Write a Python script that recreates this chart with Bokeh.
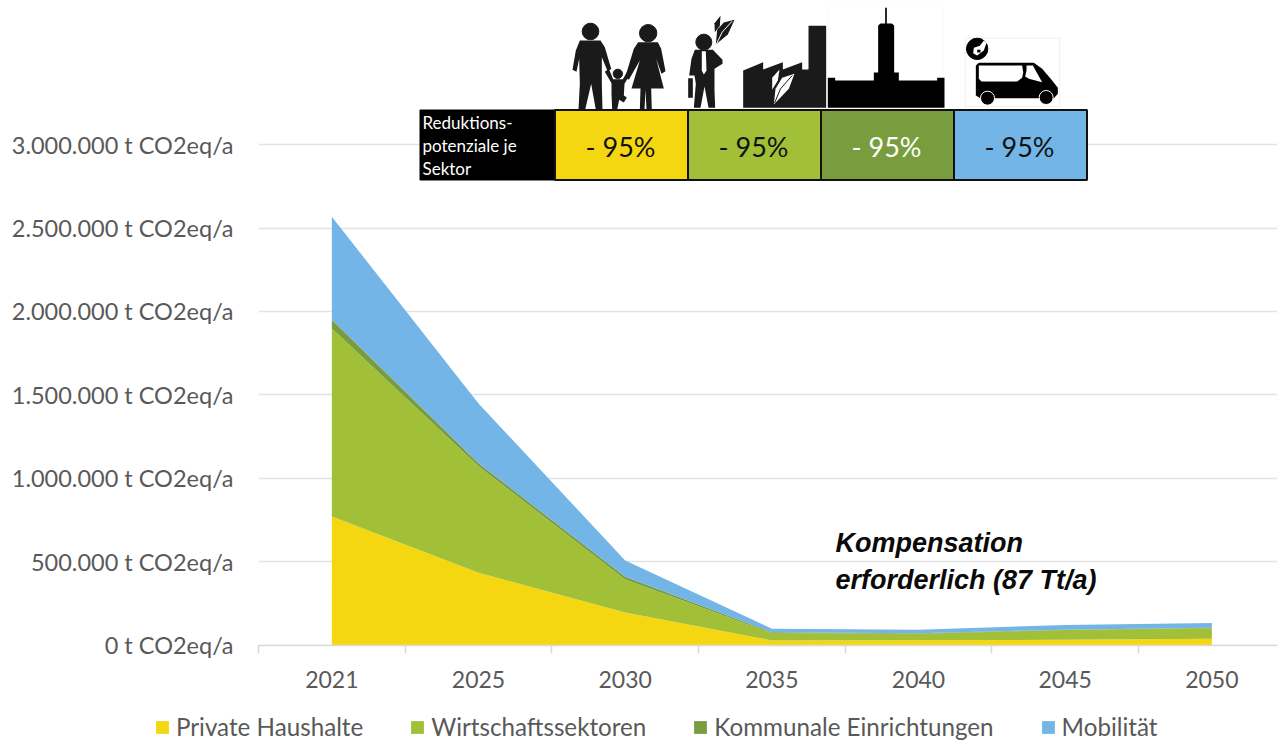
from bokeh.embed import file_html
from bokeh.layouts import column
from bokeh.resources import INLINE
from bokeh.plotting import figure
from bokeh.models import ColumnDataSource, Range1d, FixedTicker, Legend, LegendItem
from bokeh.core.properties import value

# Emission pathway per sector, t CO2eq/a
years = ["2021", "2025", "2030", "2035", "2040", "2045", "2050"]
haushalte = [770000, 433000, 195000, 27000, 28000, 31000, 38000]
wirtschaft = [1128000, 639000, 198000, 45000, 40000, 59000, 64000]
kommunal = [52000, 18000, 16000, 4000, 3000, 2000, 2000]
mobilitaet = [618000, 358000, 98000, 22000, 21000, 28000, 28000]

sectors = ["Private Haushalte", "Wirtschaftssektoren", "Kommunale Einrichtungen", "Mobilität"]
colors = ["#F4D711", "#A2C037", "#799D3E", "#72B5E6"]

y_ticks = [0, 500000, 1000000, 1500000, 2000000, 2500000, 3000000]
y_labels = ["0 t CO2eq/a", "500.000 t CO2eq/a", "1.000.000 t CO2eq/a", "1.500.000 t CO2eq/a",
            "2.000.000 t CO2eq/a", "2.500.000 t CO2eq/a", "3.000.000 t CO2eq/a"]

reductions = ["- 95%", "- 95%", "- 95%", "- 95%"]
reduction_text_colors = ["#111111", "#111111", "#FFFFFF", "#111111"]
table_head = ["Reduktions-", "potenziale je", "Sektor"]
note_lines = ["Kompensation", "erforderlich (87 Tt/a)"]

GREY = "#595959"
WIDTH, CHART_HEIGHT, LEGEND_HEIGHT = 1277, 697, 45
LEFT, BOTTOM = 258, 52
PX_PER_CATEGORY = 146.67
PX_PER_TONNE = 166.77e-6

centers = [i + 0.5 for i in range(len(years))]
source = ColumnDataSource(dict(x=centers, h=haushalte, w=wirtschaft, k=kommunal, m=mobilitaet))

p = figure(
    width=WIDTH, height=CHART_HEIGHT, output_backend="svg", toolbar_location=None,
    x_range=Range1d(0, (WIDTH - LEFT) / PX_PER_CATEGORY),
    y_range=Range1d(-0.5 / PX_PER_TONNE, 644.5 / PX_PER_TONNE),
    min_border_left=LEFT, min_border_right=0, min_border_top=0, min_border_bottom=BOTTOM,
    outline_line_color=None, background_fill_color="white", frame_align=False,
)
# Canvas-pixel ranges for the header table and its pictograms
p.extra_x_ranges["px"] = Range1d(LEFT, WIDTH)
p.extra_y_ranges["px"] = Range1d(CHART_HEIGHT - BOTTOM, 0)

p.xgrid.visible = False
p.ygrid.ticker = FixedTicker(ticks=y_ticks)
p.ygrid.grid_line_color = "#E3E3E3"
p.ygrid.grid_line_width = 1.6

yaxis = p.yaxis[0]
yaxis.ticker = FixedTicker(ticks=y_ticks)
yaxis.major_label_overrides = dict(zip(y_ticks, y_labels))
yaxis.axis_line_color = None
yaxis.major_tick_line_color = None
yaxis.minor_tick_line_color = None
yaxis.major_label_text_font = "Lato"
yaxis.major_label_text_font_size = "23.5px"
yaxis.major_label_text_color = GREY
yaxis.major_label_standoff = 19

xaxis = p.xaxis[0]
xaxis.ticker = FixedTicker(ticks=centers, minor_ticks=list(range(len(years) + 1)))
xaxis.major_label_overrides = dict(zip(centers, years))
xaxis.axis_line_color = "#D9D9D9"
xaxis.axis_line_width = 1.6
xaxis.major_tick_line_color = None
xaxis.minor_tick_line_color = "#D9D9D9"
xaxis.minor_tick_line_width = 1.6
xaxis.minor_tick_out = 8
xaxis.minor_tick_in = 0
xaxis.major_label_text_font = "Lato"
xaxis.major_label_text_font_size = "23px"
xaxis.major_label_text_color = GREY
xaxis.major_label_standoff = 17

p.varea_stack(["h", "w", "k", "m"], x="x", color=colors, source=source)

# The legend sits in its own strip under the chart; the stack it refers to lies outside the strip's x range
strip = figure(
    width=WIDTH, height=LEGEND_HEIGHT, output_backend="svg", toolbar_location=None,
    x_range=Range1d(100, 100 + WIDTH), y_range=Range1d(0, LEGEND_HEIGHT),
    x_axis_location=None, y_axis_location=None,
    min_border_left=0, min_border_right=0, min_border_top=0, min_border_bottom=0,
    outline_line_color=None, frame_align=False,
)
strip.grid.visible = False
swatches = strip.varea_stack(["h", "w", "k", "m"], x="x", color=colors, source=source)
legend = Legend(
    items=[LegendItem(label=s, renderers=[r]) for s, r in zip(sectors, swatches)],
    orientation="horizontal", location=(154, 1),
    glyph_width=16, glyph_height=16, label_standoff=6, spacing=46,
    padding=0, margin=0, border_line_color=None, background_fill_alpha=0,
    label_text_font="Lato", label_text_font_size="24.2px", label_text_color=GREY,
)
strip.add_layout(legend, "center")


def px_poly(points, x0, color, y0=0):
    """Fill a polygon given in 1/3-pixel coordinates relative to (x0, y0)."""
    xs = [x0 + a / 3 for a, _ in points]
    ys = [y0 + b / 3 for _, b in points]
    p.patch(xs, ys, color=color, line_width=0, x_range_name="px", y_range_name="px")


def px_vein(points, x0, color):
    p.line([x0 + a / 3 for a, _ in points], [b / 3 for _, b in points], line_color=color,
           line_width=1, x_range_name="px", y_range_name="px")


def px_dot(x, y, r, x0, color, outline=None):
    p.scatter([x0 + x / 3], [y / 3], size=2 * r / 3, color=color, line_color=outline or color,
              line_width=1, x_range_name="px", y_range_name="px")


def px_label(x, y, lines, **kw):
    p.text(x, y, text=lines, x_range_name="px", y_range_name="px", text_baseline="middle", **kw)


# Header table: label cell plus one cell per sector
edges = [419.5, 554.5, 687.5, 820.5, 953.5, 1086.5]
p.quad(left=edges[:1], right=edges[1:2], top=[109.5], bottom=[179.5], color="black",
       x_range_name="px", y_range_name="px")
p.quad(left=edges[1:-1], right=edges[2:], top=[109.5] * 4, bottom=[179.5] * 4, fill_color=colors,
       line_color="#111111", line_width=2, x_range_name="px", y_range_name="px")
px_label([422] * 3, [122, 145, 168], table_head, text_font=value("Lato"), text_font_size="17px",
         text_color="white")
px_label([(a + b) / 2 - 1 for a, b in zip(edges[1:-1], edges[2:])], [146] * 4, reductions,
         text_font=value("Lato"), text_font_size="27px", text_align="center",
         text_color=reduction_text_colors)

# Family
INK = "#1A1A1A"
px_dot(90, 93, 25, 560, INK)
px_poly([(58, 120), (120, 120), (133, 140), (152, 205), (142, 214), (124, 170), (124, 250), (126, 328),
         (106, 328), (92, 250), (74, 328), (54, 328), (58, 250), (56, 175), (48, 214), (36, 208), (46, 150)], 560, INK)
px_dot(263, 98, 26, 560, INK)
px_poly([(233, 125), (292, 125), (302, 145), (315, 212), (303, 220), (287, 175), (310, 264), (272, 264),
         (274, 328), (258, 328), (255, 268), (252, 328), (238, 328), (240, 264), (213, 264), (238, 180),
         (205, 238), (194, 230), (220, 145)], 560, INK)
px_dot(172, 220, 14, 560, INK)
px_poly([(158, 236), (187, 236), (205, 205), (214, 212), (192, 250), (190, 285), (199, 291), (190, 306),
         (176, 298), (170, 328), (155, 328), (153, 280), (153, 248), (133, 214), (145, 205)], 560, INK)

# Businessman with leaves
px_dot(70, 125, 24, 680, INK)
px_poly([(43, 148), (97, 148), (126, 178), (126, 190), (102, 205), (102, 270), (104, 322), (84, 322),
         (72, 258), (60, 322), (40, 322), (46, 250), (42, 225), (26, 225), (33, 175)], 680, INK)
px_poly([(64, 152), (76, 152), (78, 210), (70, 222), (64, 210)], 680, "white")
px_poly([(23, 233), (37, 233), (37, 292), (23, 292)], 680, INK)
px_poly([(162, 58), (130, 66), (110, 88), (106, 132), (142, 102)], 680, INK)
px_vein([(155, 62), (125, 95), (108, 130)], 680, "white")
px_poly([(120, 46), (102, 68), (103, 95), (118, 76)], 680, INK)

# Factory with white leaves
px_poly([(188, 322), (188, 210), (248, 185), (248, 207), (307, 185), (307, 207), (365, 185), (365, 207),
         (384, 207), (384, 76), (437, 76), (437, 322)], 680, INK)
px_poly([(342, 220), (305, 232), (285, 265), (280, 312), (325, 265)], 680, "white")
px_vein([(335, 225), (300, 265), (282, 308)], 680, INK)
px_poly([(297, 207), (275, 232), (275, 268), (292, 240)], 680, "white")

# Town hall tower
px_poly([(20, 22), (370, 22), (370, 322), (20, 322)], 820, "#F4F4F4")
px_poly([(21, 22), (369, 22), (369, 323), (21, 323)], 820, "white")
px_poly([(22, 322), (22, 232), (44, 232), (44, 240), (160, 240), (160, 216), (173, 216), (173, 75),
         (180, 69), (194, 69), (194, 22), (199, 22), (199, 69), (214, 69), (221, 75), (221, 216),
         (235, 216), (235, 240), (350, 240), (350, 232), (372, 232), (372, 322)], 820, "black")

# Electric van
px_poly([(433, 112), (719, 112), (719, 319), (433, 319)], 820, "#E6E6E6")
px_poly([(435, 114), (717, 114), (717, 317), (435, 317)], 820, "white")
px_poly([(466, 195), (475, 187), (640, 187), (665, 205), (695, 240), (712, 262), (712, 280), (700, 293),
         (480, 293), (466, 285)], 820, "black")
px_poly([(475, 195), (605, 195), (608, 215), (605, 232), (590, 243), (483, 243), (475, 235)], 820, "white")
px_poly([(618, 195), (637, 195), (665, 245), (625, 235), (614, 228), (618, 210)], 820, "white")
px_dot(501, 293, 21, 820, "black", "white")
px_dot(677, 291, 21, 820, "black", "white")
px_dot(470, 145, 32, 820, "black")
px_poly([(490, 120), (498, 127), (490, 150), (470, 165), (458, 158), (460, 142), (478, 136)], 820, "white")
px_poly([(470, 148), (480, 148), (480, 156), (470, 156)], 820, "black")

# Compensation note
px_label([835, 835], [542, 579], note_lines, text_font=value("Liberation Sans"), text_font_size="27px",
         text_font_style="bold italic", text_color="#0A0A0A")

open("out.html", "w").write(file_html(column(p, strip, spacing=0), INLINE))
